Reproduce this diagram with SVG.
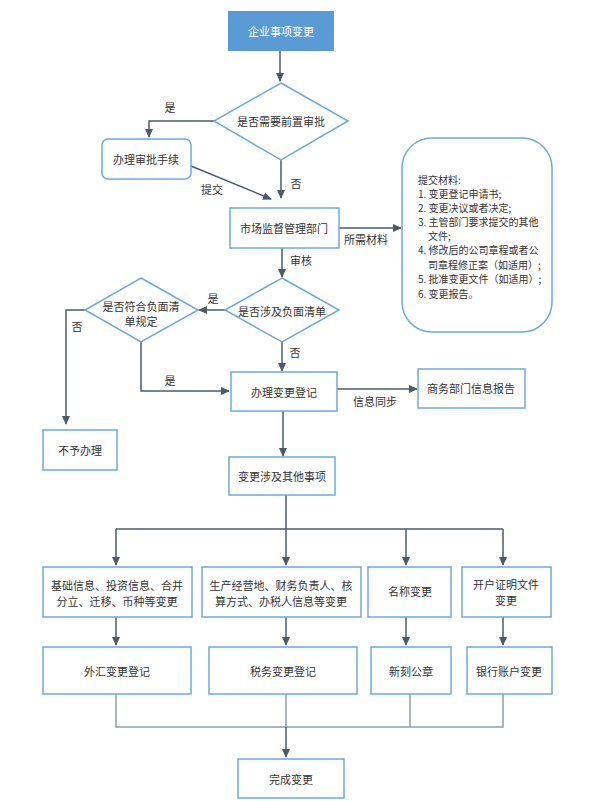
<svg xmlns="http://www.w3.org/2000/svg" width="593" height="801" viewBox="0 0 593 801">
<style>
.n{fill:#fff;stroke:#6fa8dc;stroke-width:1.5}
.t{font-family:"Noto Sans CJK SC",sans-serif;font-size:11px;fill:#333;text-anchor:middle;dominant-baseline:central}
.l{font-family:"Noto Sans CJK SC",sans-serif;font-size:11px;fill:#333;text-anchor:middle;dominant-baseline:central}
.s{font-family:"Noto Sans CJK SC",sans-serif;font-size:10px;fill:#333;dominant-baseline:central}
.c{fill:none;stroke:#4d5a6c;stroke-width:1.5}
.g{fill:none;stroke:#939cab;stroke-width:1.5}
</style>
<defs>
<marker id="a" markerWidth="10" markerHeight="10" refX="8" refY="5" orient="auto" markerUnits="userSpaceOnUse"><path d="M0,1 L9,5 L0,9 Z" fill="#4d5a6c"/></marker>
</defs>
<rect width="593" height="801" fill="#fff"/>
<g id="connectors">
<path class="c" d="M280,51 V81" marker-end="url(#a)"/>
<path class="c" d="M214,121 H149 V137" marker-end="url(#a)"/>
<path class="c" d="M191,166 L271,199" marker-end="url(#a)"/>
<path class="c" d="M281,160 V198" marker-end="url(#a)"/>
<path class="c" d="M339,228 H401" marker-end="url(#a)"/>
<path class="c" d="M282,248 V277" marker-end="url(#a)"/>
<path class="c" d="M225,310 H199" marker-end="url(#a)"/>
<path class="c" d="M85,310 H66 V424" marker-end="url(#a)"/>
<path class="c" d="M141,342 V391 H229" marker-end="url(#a)"/>
<path class="c" d="M282,342 V371" marker-end="url(#a)"/>
<path class="c" d="M337,389 H417" marker-end="url(#a)"/>
<path class="c" d="M283,411 V456" marker-end="url(#a)"/>
<path class="c" d="M286,495 V565" marker-end="url(#a)"/>
<path class="c" d="M116,529 H503"/>
<path class="c" d="M116,529 V565" marker-end="url(#a)"/>
<path class="c" d="M406,529 V565" marker-end="url(#a)"/>
<path class="c" d="M503,529 V565" marker-end="url(#a)"/>
<path class="c" d="M116,617 V645" marker-end="url(#a)"/>
<path class="c" d="M286,617 V645" marker-end="url(#a)"/>
<path class="c" d="M406,617 V645" marker-end="url(#a)"/>
<path class="c" d="M503,617 V645" marker-end="url(#a)"/>
<path class="g" d="M116,694 V727 H503 V694"/>
<path class="g" d="M410,694 V727"/>
<path class="g" d="M286,694 V727"/>
<path class="c" d="M286,727 V757" marker-end="url(#a)"/>
</g>
<g id="labels">
<text class="l" x="170" y="107">是</text>
<text class="l" x="212" y="189">提交</text>
<text class="l" x="296" y="183">否</text>
<text class="l" x="366" y="239">所需材料</text>
<text class="l" x="301" y="260">审核</text>
<text class="l" x="213" y="298">是</text>
<text class="l" x="77" y="326">否</text>
<text class="l" x="170" y="380">是</text>
<text class="l" x="295" y="352">否</text>
<text class="l" x="375" y="401">信息同步</text>
</g>
<g id="n1"><rect x="228" y="11" width="106" height="40" fill="#5b9bd5"/><text class="t" x="281" y="31" style="fill:#fff">企业事项变更</text></g>
<g id="n2"><polygon class="n" points="281,83 348,121 281,160 214,121"/><text class="t" x="281" y="121">是否需要前置审批</text></g>
<g id="n3"><rect class="n" x="102" y="139" width="89" height="40" rx="6"/><text class="t" x="146" y="159">办理审批手续</text></g>
<g id="n4"><rect class="n" x="230" y="208" width="109" height="40"/><text class="t" x="284" y="228">市场监督管理部门</text></g>
<g id="n5"><rect class="n" x="402" y="138" width="150" height="194" rx="30"/>
<text class="s" x="418" y="179">提交材料:</text>
<text class="s" x="418" y="193">1. 变更登记申请书;</text>
<text class="s" x="418" y="207">2. 变更决议或者决定;</text>
<text class="s" x="418" y="221">3. 主管部门要求提交的其他</text>
<text class="s" x="428" y="235">文件;</text>
<text class="s" x="418" y="249">4. 修改后的公司章程或者公</text>
<text class="s" x="428" y="264">司章程修正案（如适用）;</text>
<text class="s" x="418" y="278">5. 批准变更文件（如适用）;</text>
<text class="s" x="418" y="293">6. 变更报告。</text>
</g>
<g id="n6"><polygon class="n" points="282,278 339,310 282,342 225,310"/><text class="t" x="282" y="311">是否涉及负面清单</text></g>
<g id="n7"><polygon class="n" points="141,278 198,310 141,342 85,310"/><text class="t" x="141" y="306">是否符合负面清</text><text class="t" x="141" y="321">单规定</text></g>
<g id="n8"><rect class="n" x="43" y="430" width="74" height="40"/><text class="t" x="80" y="450">不予办理</text></g>
<g id="n9"><rect class="n" x="231" y="372" width="106" height="39"/><text class="t" x="284" y="392">办理变更登记</text></g>
<g id="n10"><rect class="n" x="418" y="369" width="107" height="39"/><text class="t" x="471" y="388">商务部门信息报告</text></g>
<g id="n11"><rect class="n" x="229" y="457" width="106" height="38"/><text class="t" x="282" y="476">变更涉及其他事项</text></g>
<g id="n12"><rect class="n" x="43" y="567" width="149" height="50"/><text class="t" x="117" y="585">基础信息、投资信息、合并</text><text class="t" x="117" y="601">分立、迁移、币种等变更</text></g>
<g id="n13"><rect class="n" x="202" y="567" width="159" height="50"/><text class="t" x="281" y="585">生产经营地、财务负责人、核</text><text class="t" x="281" y="601">算方式、办税人信息等变更</text></g>
<g id="n14"><rect class="n" x="368" y="567" width="83" height="50"/><text class="t" x="410" y="591">名称变更</text></g>
<g id="n15"><rect class="n" x="462" y="567" width="89" height="50"/><text class="t" x="506" y="584">开户证明文件</text><text class="t" x="506" y="600">变更</text></g>
<g id="n16"><rect class="n" x="43" y="647" width="148" height="47"/><text class="t" x="117" y="671">外汇变更登记</text></g>
<g id="n17"><rect class="n" x="209" y="647" width="148" height="47"/><text class="t" x="283" y="671">税务变更登记</text></g>
<g id="n18"><rect class="n" x="371" y="647" width="80" height="47"/><text class="t" x="411" y="671">新刻公章</text></g>
<g id="n19"><rect class="n" x="467" y="647" width="85" height="47"/><text class="t" x="509" y="671">银行账户变更</text></g>
<g id="n20"><rect class="n" x="238" y="759" width="106" height="39"/><text class="t" x="291" y="779">完成变更</text></g>
</svg>
